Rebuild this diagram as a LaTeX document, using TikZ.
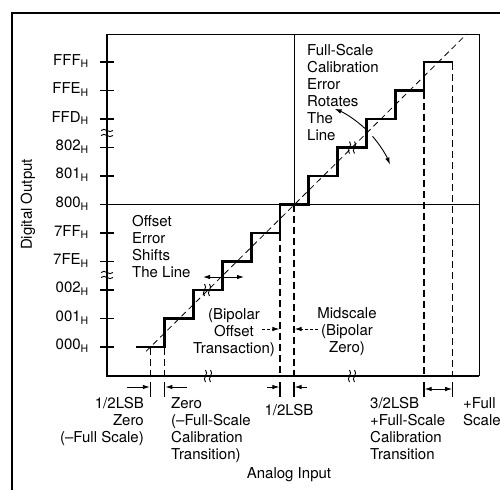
\documentclass[tikz,border=0pt]{standalone}
\usepackage{fontspec}
\setmainfont{TeX Gyre Heros}
\usetikzlibrary{arrows.meta}

\tikzset{
  lbl/.style={font=\fontsize{15}{17}\selectfont, inner sep=0pt},
  stair/.style={line width=2.7pt, line join=miter},
  ideal/.style={line width=0.8pt, dash pattern=on 6pt off 4pt},
  guide/.style={line width=1.2pt, dash pattern=on 7pt off 4pt},
  axtick/.style={line width=1.2pt},
  dimbar/.style={line width=1.2pt},
  dimarrow/.style={line width=0.9pt, -{Latex[length=7pt,width=4.5pt]}},
  dblarrow/.style={line width=0.9pt, {Latex[length=7pt,width=4.5pt]}-{Latex[length=7pt,width=4.5pt]}},
  leader/.style={dimarrow, dash pattern=on 3pt off 2pt},
  brk/.pic={
    \draw[line width=0.9pt] (-2.5,-6) .. controls (1.5,-2) and (-6.5,2) .. (-2.5,6);
    \draw[line width=0.9pt] (2.5,-6) .. controls (6.5,-2) and (-1.5,2) .. (2.5,6);
  }
}

\begin{document}
\begin{tikzpicture}[x=1pt, y=-1pt]
    \useasboundingbox (0,0) rectangle (500,490);

    % Outer frame (cut off at the right and bottom)
    \draw[line width=1.6pt] (12,490) -- (12,13) -- (500,13);

    % Corners of the plot box
    \coordinate (O) at (107,376);
    \coordinate (TL) at (107,34);
    \coordinate (TR) at (479,34);
    \coordinate (BR) at (479,376);
    \draw[line width=1pt] (TL) -- (TR) -- (BR);
    \draw[line width=2pt] (TL) -- (O) -- (BR);

    % Midscale cross lines
    \coordinate (M) at (294,204.5);
    \draw[line width=0.9pt] (107,204.5) -- (479,204.5);
    \draw[line width=0.9pt] (294,34) -- (M);

    % Ideal transfer line
    \draw[ideal] (146,351.4) -- (466.7,34);

    % Staircase of output codes
    \draw[stair] (136,347) \foreach \k in {1,...,10} { -- ++(28.8,0) -- ++(0,-28.5) } -- ++(28.8,0);

    % Dashed guides down to the axis
    \draw[guide] (150.4,348) -- (150.4,376);
    \draw[guide] (164.8,348) -- (164.8,376);
    \draw[guide] (280,234) -- (280,376);
    \draw[guide] (M) -- (294,376);
    \draw[guide] (424,91.5) -- (424,376);
    \draw[guide] (452.8,63) -- (452.8,376);

    % Scale breaks
    \pic[rotate=90] at (107,133) {brk};
    \pic[rotate=90] at (107,275) {brk};
    \pic at (208,376) {brk};
    \pic at (352,376) {brk};
    \pic at (207,290) {brk};
    \pic at (352,147.5) {brk};

    % Ticks and code labels
    \foreach \yy/\code in {62/FFF, 90.5/FFE, 119/FFD, 147.5/802, 176/801, 204.5/800,
                           233/7FF, 261.5/7FE, 290/002, 318.5/001, 347/000} {
      \draw[axtick] (100,\yy) -- (114,\yy);
      \node[lbl, anchor=east] (c\code) at (89,\yy-1) {\code\textsubscript{H}};
    }

    % Axis titles
    \node[lbl, rotate=90] (ytitle) at (28,204.5) {Digital Output};
    \node[lbl, anchor=north] (xtitle) at (289,467) {Analog Input};

    % Notes inside the plot
    \node[lbl, anchor=north west, align=left] (fsnote) at (307,44)
      {Full-Scale\\Calibration\\Error\\Rotates\\The\\Line};
    \node[lbl, anchor=north west, align=left] (offnote) at (132,215.5)
      {Offset\\Error\\Shifts\\The Line};
    \node[lbl, anchor=north, align=center] (bipoff) at (234,308)
      {(Bipolar\\Offset\\Transaction)};
    \node[lbl, anchor=north, align=center] (midnote) at (347,307)
      {Midscale\\(Bipolar\\Zero)};

    % Rotation arrows round the midscale point
    \draw[dimarrow] (M) ++(-47:104) arc[start angle=-47, end angle=-67, radius=104];
    \draw[dimarrow] (M) ++(-41:104) arc[start angle=-41, end angle=-22.6, radius=104];

    % Shift arrow and leaders
    \draw[dblarrow] (203,277) -- (244,277);
    \draw[leader] (262,329) -- (279.4,329);
    \draw[leader] (318,329) -- (294.6,329);

    % Dimension marks below the axis
    \foreach \xx in {150.4,164.8,280,294,424,452.8}
      \draw[dimbar] (\xx,382) -- (\xx,397);
    \draw[dimarrow] (127,387) -- (149.8,387);
    \draw[dimarrow] (187,387) -- (165.4,387);
    \draw[dimarrow] (267,387) -- (279.4,387);
    \draw[dimarrow] (307,387) -- (294.6,387);
    \draw[dimarrow] (438.4,389) -- (424.6,389);
    \draw[dimarrow] (438.4,389) -- (452.2,389);

    % Labels below the axis
    \node[lbl, anchor=north east, align=right] (zeroL) at (144,397)
      {1/2LSB\\Zero\\(–Full Scale)};
    \node[lbl, anchor=north west, align=left] (zeroR) at (171,397)
      {Zero\\(–Full-Scale\\Calibration\\Transition)};
    \node[lbl, anchor=north] (halfL) at (289,404) {1/2LSB};
    \node[lbl, anchor=north west, align=left] (fsL) at (370,397)
      {3/2LSB\\+Full-Scale\\Calibration\\Transition};
    \node[lbl, anchor=north west, align=left] (fsR) at (463,397)
      {+Full\\Scale};
\end{tikzpicture}
\end{document}
